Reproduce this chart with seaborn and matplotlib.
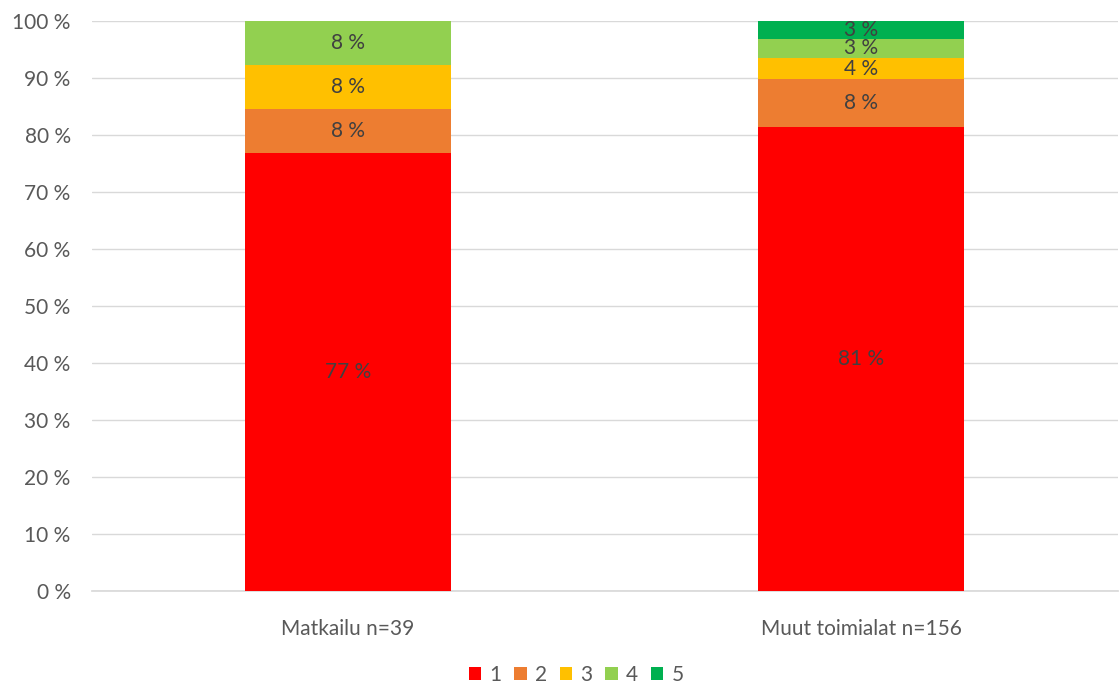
import numpy as np
import pandas as pd
import seaborn as sns
import matplotlib.pyplot as plt
from matplotlib.patches import Patch
from matplotlib.ticker import FuncFormatter

# Response shares (%) per group for answer levels 1..5
categories = ["Matkailu n=39", "Muut toimialat n=156"]
levels = ["1", "2", "3", "4", "5"]
share_1 = [76.92, 81.41]
share_2 = [7.69, 8.33]
share_3 = [7.69, 3.85]
share_4 = [7.70, 3.21]
share_5 = [0.0, 3.20]
colors = ["#FF0000", "#ED7D31", "#FFC000", "#92D050", "#00B050"]

shares = [share_1, share_2, share_3, share_4, share_5]

sns.set_theme(style="white")
plt.rcParams["font.family"] = ["Lato", "DejaVu Sans"]

fig = plt.figure(figsize=(11.19, 6.86), dpi=100)
ax = fig.add_axes([0.0818, 0.1385, 0.9169, 0.8309])

# Stacked bars: draw cumulative totals from the top level down so each
# lower segment overlays the one above it.
cum = np.cumsum(np.array(shares), axis=0)
for i in range(len(levels) - 1, -1, -1):
    df = pd.DataFrame({"group": categories, "value": cum[i]})
    sns.barplot(data=df, x="group", y="value", color=colors[i],
                saturation=1, width=0.4, linewidth=0, edgecolor="none",
                ax=ax, zorder=2 + (len(levels) - i))

# Segment labels
for j, cat in enumerate(categories):
    base = 0.0
    for i in range(len(levels)):
        v = shares[i][j]
        if v > 0:
            ax.text(j, base + v / 2, f"{round(v):.0f} %", ha="center", va="center",
                    fontsize=15, color="#404040", zorder=20)
        base += v

ax.set_xlim(-0.5, 1.5)
ax.set_ylim(0, 100)
ax.set_yticks(np.arange(0, 101, 10))
ax.yaxis.set_major_formatter(FuncFormatter(lambda v, p: f"{v:.0f} %"))
ax.grid(axis="y", color="#D9D9D9", linewidth=1, zorder=0)
ax.set_axisbelow(True)
for s in ["top", "right", "left"]:
    ax.spines[s].set_visible(False)
ax.spines["bottom"].set_color("#D9D9D9")
ax.set_xlabel("")
ax.set_ylabel("")
ax.tick_params(axis="both", length=0, labelsize=15, labelcolor="#595959")
ax.tick_params(axis="x", pad=20)
ax.tick_params(axis="y", pad=15)

handles = [Patch(facecolor=c, edgecolor="none", label=l) for c, l in zip(colors, levels)]
fig.legend(handles=handles, loc="center", bbox_to_anchor=(0.515, 0.016), ncol=5,
           frameon=False, handlelength=0.6, handleheight=0.6, handletextpad=0.4,
           columnspacing=0.6, fontsize=15, labelcolor="#595959")

fig.savefig("out.png", dpi=100)
